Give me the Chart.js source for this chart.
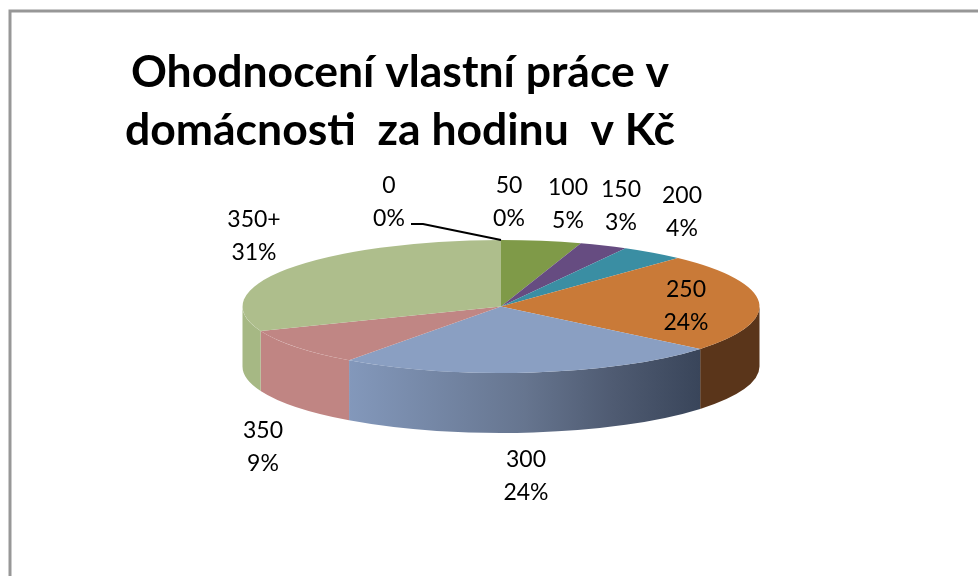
<!DOCTYPE html>
<html>
<head>
<meta charset="utf-8">
<style>
html,body{margin:0;padding:0;background:#fff;overflow:hidden}
#wrap{width:978px;height:576px;position:relative}
canvas{display:block}
</style>
<script src="https://cdn.jsdelivr.net/npm/chart.js@4"></script>
</head>
<body>
<div id="wrap"><canvas id="c" width="978" height="576"></canvas></div>
<script>
const titleLines = ['Ohodnocení vlastní práce v', 'domácnosti  za hodinu  v Kč'];
const categories = ['0', '50', '100', '150', '200', '250', '300', '350', '350+'];
const shares = [0, 0, 5, 3, 4, 24, 24, 9, 31];
const topColors = ['#4f81bd', '#c0504d', '#7f9a48', '#664c81', '#3a8ea3', '#c97a38', '#8a9fc2', '#c08684', '#aebe8c'];
const wallColors = [null, null, '#5f7336', '#4c3961', '#2b6a7a', '#5a351a', 'GRAD', '#c08583', '#a6b884'];
const wallGradient = [[0, '#8398bb'], [0.5, '#66758f'], [0.75, '#4f5b72'], [1, '#39455a']];
const labelAnchors = [[389,186],[509,186],[568,188],[621,190],[682,196],[686,290],[526,460],[263,431],[254,220]];

const PIE = {cx: 501, cy: 306.5, rx: 258.5, ry: 66.5, depth: 60};
const LABEL_FONT = '23px Lato, Carlito, sans-serif';
const LINE_GAP = 33;

function pieAngles(chart) {
  return chart.getDatasetMeta(0).data.map(a => a.getProps(['startAngle', 'endAngle', 'x', 'y'], true));
}

const frame = {
  id: 'frame',
  beforeDraw(chart) {
    const c = chart.ctx;
    c.save();
    c.strokeStyle = '#979797';
    c.lineWidth = 3;
    c.strokeRect(10, 11, 2000, 2000);
    c.restore();
  }
};

const pie3d = {
  id: 'pie3d',
  beforeDatasetsDraw(chart) {
    const c = chart.ctx;
    const angs = pieAngles(chart);
    const p = PIE;
    c.save();
    angs.forEach((a, i) => {
      let st = a.startAngle, en = a.endAngle;
      // normalise to 0..2PI and clip to the visible front half (0..PI)
      const two = 2 * Math.PI;
      while (st < 0) { st += two; en += two; }
      const ranges = [[st, en], [st - two, en - two]];
      ranges.forEach(([f, t]) => {
        const lo = Math.max(f, 0), hi = Math.min(t, Math.PI);
        if (hi <= lo) return;
        c.beginPath();
        c.ellipse(p.cx, p.cy, p.rx, p.ry, 0, lo, hi);
        c.ellipse(p.cx, p.cy + p.depth, p.rx, p.ry, 0, hi, lo, true);
        c.closePath();
        if (wallColors[i] === 'GRAD') {
          const x0 = p.cx + p.rx * Math.cos(hi), x1 = p.cx + p.rx * Math.cos(lo);
          const g = c.createLinearGradient(x0, 0, x1, 0);
          wallGradient.forEach(([o, col]) => g.addColorStop(o, col));
          c.fillStyle = g;
        } else {
          c.fillStyle = wallColors[i];
        }
        c.fill();
      });
    });
    c.restore();
    // squash the library's own pie into the tilted ellipse
    const a0 = angs[0];
    const r = chart.getDatasetMeta(0).data[0].outerRadius;
    c.save();
    c.translate(p.cx, p.cy);
    c.scale(p.rx / r, p.ry / r);
    c.translate(-a0.x, -a0.y);
  },
  afterDatasetsDraw(chart) {
    const c = chart.ctx;
    c.restore();
    const p = PIE;
    const total = shares.reduce((x, y) => x + y, 0);
    // leader line of the zero slice
    const ang = pieAngles(chart)[0].startAngle;
    c.save();
    c.strokeStyle = '#000';
    c.lineWidth = 2;
    c.beginPath();
    c.moveTo(411, 224);
    c.lineTo(423, 224);
    c.lineTo(p.cx + p.rx * Math.cos(ang), p.cy + p.ry * Math.sin(ang));
    c.stroke();
    c.fillStyle = '#000';
    c.font = LABEL_FONT;
    c.textAlign = 'center';
    c.textBaseline = 'middle';
    categories.forEach((name, i) => {
      const [x, y] = labelAnchors[i];
      c.fillText(name, x, y);
      c.fillText(Math.round(shares[i] / total * 100) + '%', x, y + LINE_GAP);
    });
    c.restore();
  }
};

new Chart(document.getElementById('c'), {
  type: 'pie',
  data: {
    labels: categories,
    datasets: [{
      data: shares,
      backgroundColor: topColors,
      borderWidth: 0,
      clip: false
    }]
  },
  options: {
    responsive: false,
    animation: false,
    layout: {padding: {left: 0, right: 178, top: 0, bottom: 0}},
    plugins: {
      legend: {display: false},
      tooltip: {enabled: false},
      title: {
        display: true,
        text: titleLines,
        fullSize: false,
        color: '#000',
        font: {family: 'Lato, Carlito, sans-serif', size: 44.5, weight: 'bold', lineHeight: 1.3},
        padding: {top: 44, bottom: 10}
      }
    }
  },
  plugins: [frame, pie3d]
});
</script>
</body>
</html>
